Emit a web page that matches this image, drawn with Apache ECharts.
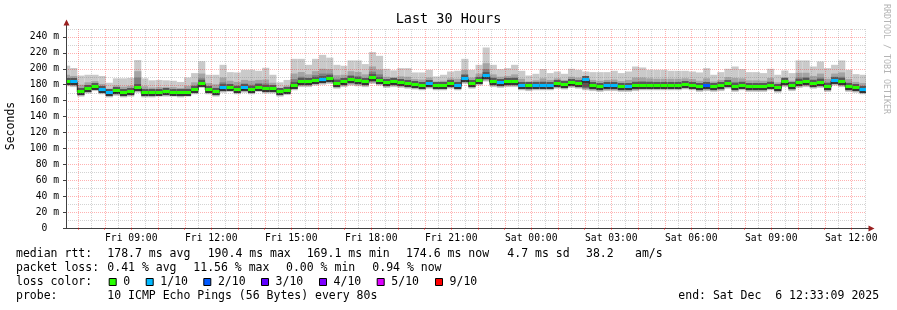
<!DOCTYPE html>
<html><head><meta charset="utf-8">
<script src="https://cdn.jsdelivr.net/npm/echarts@6/dist/echarts.min.js"></script>
<style>html,body{margin:0;padding:0;background:#fff}#c{width:897px;height:310px}</style>
</head><body><div id="c"></div>
<script>
// time in minutes after Fri 00:00
const AXIS_START = 393.15;   // Fri 06:33:09
const AXIS_END = 2193.15;    // Sat 12:33:09
const BUCKET_START = 386.6;
const BUCKET_LEN = 16;

const xTickTimes = [540, 720, 900, 1080, 1260, 1440, 1620, 1800, 1980, 2160];
const xTickLabels = ['Fri 09:00','Fri 12:00','Fri 15:00','Fri 18:00','Fri 21:00','Sat 00:00','Sat 03:00','Sat 06:00','Sat 09:00','Sat 12:00'];
const yTickValues = [0,20,40,60,80,100,120,140,160,180,200,220,240];

const median = [183,183,170.6,175,177.7,173.7,169.3,171.8,169.2,170.5,
 175.6,169.5,169.4,170.2,170.5,170.2,170,170.2,173.5,181,
 173.5,170.8,175.6,176.4,173.5,175.6,173.5,176.4,174.7,174.3,
 170.6,172.7,178.8,183,183,185,186,187.5,181.5,183,
 185.7,184.6,182.8,188.3,185,182,182.8,182,180.8,180,
 179,180.8,178.7,179,180.8,179,187,180.8,185,190.4,
 183.3,182,183.3,183.3,179,177.8,178.7,178.7,179,180.8,
 180,182,180.8,186.2,177.8,176.6,177.8,177.8,176.6,177,
 177.8,179,179,178.7,178.7,179,179,180,179,177,
 177.8,177,177.8,180.8,177,179,177,177,177,179,
 175.7,182.8,177.8,182,182.8,181.2,182,177,185,183.3,
 177,175.7,173.6];
const high = [204,201,191.5,192.5,192.5,191,182.5,188,188,188.5,
 211,188,185.5,186,185.5,185,183.5,189,194.6,209.5,
 192.5,192.5,205,195.8,195.4,198.7,198.7,197.5,201.3,192.5,
 183,186,212.5,212.5,205,212.5,217.5,214,205,203.8,
 210.5,210.5,205.9,221,216.3,200,198,200.8,200.8,195.4,
 195.4,198.7,190.4,192.5,196.6,197.5,212.5,198.7,205,226.8,
 205,199.6,200.8,205,197.5,191.6,193.7,199.6,194.6,196.6,
 193.7,200,198.7,196.6,195.8,195.8,195.8,197.5,194.6,196.6,
 202.9,201.7,198.7,198.7,198.7,197.5,197.5,197.5,196.6,195.4,
 200.8,192.5,195.8,200,202.9,199.6,195.8,195.8,194.6,200,
 192.5,197.9,194.6,210.5,210.5,202.9,209.2,200.8,205,210.5,
 198.7,193.3,192.5];
const upper9 = [192.5,191,180,183,184.5,181,175,179,177.5,178.5,
 197,178,176.5,177,177,177,176,178.5,183,194,
 182,180.5,189,185,183.5,186,185,186,186.5,182.5,
 176,178.7,194,196,193,197,200,199.5,192,192.5,
 197,196,193,203,199,190,189.5,190.5,190,187,
 186.5,189,184,185,188,187.5,198.5,189,194,207,
 193,190,191,193,187.5,184,185.5,188,186,188,
 186,190,189,191,186,185,186,186.5,184.5,186,
 189,189,188,187.5,187.5,187.5,187.5,188,187,185,
 188,184,186,189.5,188.5,188,185.5,185.5,185,188.5,
 183,189.5,185,195,195,191,194,187.5,194,195.5,
 187,183.5,182];
const upper8 = [188,187.5,176,179.5,181.5,178,172.5,176,174,175,
 189,174,173.5,174,174,174,173.5,175,179,188,
 178,176,183,181,179,181.5,180,182,181.5,179,
 173.7,176,187,190,188.5,192,194,194,187.5,188,
 192,191,188.5,196.5,193,186.5,186.5,187,186,184,
 183,185,181.5,182.5,185,183.5,193.5,185,190,199.5,
 189,186.5,187.5,189,183.5,181.5,182.5,184,183,185,
 183.5,186.5,185,188.5,182,181.5,182.5,182.5,181,182,
 184,184.5,184,183.5,183.5,183.5,183.5,184.5,183.5,181.5,
 183.5,181,182,185.5,183.5,184,181.5,181.5,181.5,184,
 180,186.5,182,189,189.5,186.5,189,183,190,190,
 182.5,180,178.5];
const low = [178,177,165,169,172,168,164,166,164,165,
 170,164,164,165,165,165,164,165,168,176,
 168,165,170,171,168,170,168,171,169,169,
 165,167,173,177,177,179,180,181,175,177,
 179,178,177,181,179,176,177,176,175,174,
 173,175,173,173,175,173,181,175,179,184,
 177,176,177,177,173,172,173,173,173,175,
 174,176,175,173,172,171,172,172,171,171,
 172,173,173,173,173,173,173,174,173,171,
 172,171,172,175,171,173,171,171,171,173,
 170,177,172,176,177,175,176,171,179,177,
 171,170,168];
const lossTenths = [0,1,0,0,0,1,1,0,0,0,
 0,0,0,0,0,0,0,0,0,0,
 0,0,1,0,0,1,0,0,0,0,
 0,0,0,0,0,0,1,0,0,0,
 0,0,0,0,0,0,0,0,0,0,
 0,1,0,0,0,1,1,0,0,1,
 0,1,0,0,1,0,1,1,1,0,
 0,0,0,1,0,0,1,1,0,1,
 0,0,0,0,0,0,0,0,0,0,
 2,0,0,0,0,0,0,0,0,0,
 0,0,0,0,0,0,0,0,1,0,
 0,0,1];

const lossLegend = ['0','1/10','2/10','3/10','4/10','5/10','9/10'];
const lossColorList = ['#26ff00','#00b8ff','#0059ff','#5e00ff','#7e00ff','#dd00ff','#ff0000'];
const lossColorOf = {0:'#26ff00',1:'#00b8ff',2:'#0059ff',3:'#5e00ff',4:'#7e00ff',5:'#dd00ff',9:'#ff0000'};

const MONO = '"DejaVu Sans Mono", monospace';

// build data for the library
const bucketData = median.map((m, i) => {
  const s = BUCKET_START + i * BUCKET_LEN;
  return [s, s + BUCKET_LEN, low[i], upper8[i], upper9[i], high[i], m, lossTenths[i]];
});
const medianLine = median.map((m, i) => [Math.max(AXIS_START, BUCKET_START + i * BUCKET_LEN), m]);
medianLine.push([AXIS_END, median[median.length - 1]]);

const hourTicks = [];
for (let t = 420; t < AXIS_END; t += 60) hourTicks.push(t);
const gridItems = [];
for (let t = 420; t < AXIS_END; t += 30) gridItems.push([0, t, t % 60 === 0 ? 1 : 0]);
for (let v = 10; v <= 250; v += 10) gridItems.push([1, v, v % 20 === 0 ? 1 : 0]);

function span(api) {
  const t0 = Math.max(api.value(0), AXIS_START), t1 = Math.min(api.value(1), AXIS_END);
  return [api.coord([t0, 0])[0], api.coord([t1, 0])[0], t0];
}
function renderSmoke(params, api) {
  const [x0, x1, t0] = span(api);
  const Y = v => api.coord([t0, v])[1];
  const lo = Y(api.value(2)), a = Y(api.value(3)), b = Y(api.value(4)), hi = Y(api.value(5)), md = Math.round(Y(api.value(6)));
  const r = (top, bot, fill) => ({type: 'rect', shape: {x: x0, y: top, width: x1 - x0, height: Math.max(0, bot - top)}, style: {fill}});
  return {type: 'group', children: [
    r(hi, lo, '#cacaca'),
    r(b, lo - 1, '#a4a4a4'),
    r(a, lo - 2, '#7e7e7e'),
    r(md - 4, lo - 3, '#585858'),
    r(md - 2, md + 3, '#363636')
  ]};
}
function renderBand(params, api) {
  const [x0, x1, t0] = span(api);
  const md = Math.round(api.coord([t0, api.value(6)])[1]);
  return {type: 'rect', shape: {x: x0, y: md - 2, width: x1 - x0, height: 3}, style: {fill: lossColorOf[api.value(7)]}};
}
function renderGrid(params, api) {
  const cs = params.coordSys;
  const kind = api.value(0), val = api.value(1), major = api.value(2);
  const stroke = major ? 'rgba(255,0,0,0.3)' : 'rgba(120,120,120,0.33)';
  if (kind === 0) {
    const x = Math.round(api.coord([val, 0])[0]) + 0.5;
    return {type: 'line', shape: {x1: x, y1: cs.y, x2: x, y2: cs.y + cs.height}, style: {stroke, lineWidth: 1, lineDash: [1, 1]}};
  }
  const y = Math.round(api.coord([AXIS_START, val])[1]) + 0.5;
  return {type: 'line', shape: {x1: cs.x, y1: y, x2: cs.x + cs.width, y2: y}, style: {stroke, lineWidth: 1, lineDash: [1, 1]}};
}

function txt(text, x, y, size, extra) {
  return Object.assign({type: 'text', x, y, silent: true, style: Object.assign({
    text, font: size + 'px ' + MONO, fill: '#000',
    align: 'left', verticalAlign: 'middle', textAlign: 'left', textVerticalAlign: 'middle'
  }, extra || {})});
}
const L = 11.5;
const graphics = [
  txt('Last 30 Hours', 448.5, 19, 13.5, {align: 'center', textAlign: 'center'}),
  Object.assign(txt('Seconds', 11, 126, 11.5, {align: 'center', textAlign: 'center'}), {rotation: Math.PI / 2}),
  Object.assign(txt('RRDTOOL / TOBI OETIKER', 886.5, 59, 8.3, {align: 'center', textAlign: 'center', fill: '#b4b4b4'}), {rotation: -Math.PI / 2}),
  txt('median rtt:', 16, 254, L), txt('178.7 ms avg', 107.3, 254, L), txt('190.4 ms max', 207.7, 254, L),
  txt('169.1 ms min', 306.7, 254, L), txt('174.6 ms now', 406, 254, L), txt('4.7 ms sd', 507.3, 254, L),
  txt('38.2', 586, 254, L), txt('am/s', 635, 254, L),
  txt('packet loss:', 16, 268.3, L), txt('0.41 % avg', 107.3, 268.3, L), txt('11.56 % max', 193.3, 268.3, L),
  txt('0.00 % min', 286, 268.3, L), txt('0.94 % now', 372.3, 268.3, L),
  txt('loss color:', 16, 282, L),
  txt('probe:', 16, 296, L), txt('10 ICMP Echo Pings (56 Bytes) every 80s', 107.3, 296, L),
  txt('end: Sat Dec  6 12:33:09 2025', 678.3, 296, L),
  // axis extensions and arrows
  {type: 'line', silent: true, shape: {x1: 66.5, y1: 29, x2: 66.5, y2: 23}, style: {stroke: '#404040', lineWidth: 1}},
  {type: 'polygon', silent: true, shape: {points: [[66.5, 19.5], [63.5, 25.5], [69.5, 25.5]]}, style: {fill: '#9a2020'}},
  {type: 'line', silent: true, shape: {x1: 866, y1: 228.5, x2: 870, y2: 228.5}, style: {stroke: '#404040', lineWidth: 1}},
  {type: 'polygon', silent: true, shape: {points: [[874.5, 228.5], [868.5, 225.5], [868.5, 231.5]]}, style: {fill: '#9a2020'}}
];
const swatchX = [108.7, 145.7, 203.3, 261, 319, 376.7, 435];
lossLegend.forEach((lab, i) => {
  graphics.push({type: 'rect', silent: true, shape: {x: swatchX[i] + 0.5, y: 278.5, width: 7, height: 7}, style: {fill: lossColorList[i], stroke: '#000', lineWidth: 1}});
  graphics.push(txt(lab, swatchX[i] + 14.6, 282, L));
});

const chart = echarts.init(document.getElementById('c'), null, {renderer: 'canvas'});
chart.setOption({
  animation: false,
  backgroundColor: '#ffffff',
  grid: {left: 66, right: 31, top: 29, bottom: 82, containLabel: false},
  xAxis: {
    type: 'value', min: AXIS_START, max: AXIS_END, z: 10,
    axisLine: {show: true, lineStyle: {color: '#404040', width: 1}},
    axisTick: {show: true, customValues: hourTicks, length: 2, inside: false, lineStyle: {color: 'rgba(255,0,0,0.45)'}},
    splitLine: {show: false},
    axisLabel: {
      customValues: xTickTimes, margin: 5,
      formatter: v => { const k = xTickTimes.indexOf(Math.round(v)); return k >= 0 ? xTickLabels[k] : ''; },
      fontFamily: 'DejaVu Sans Mono', fontSize: 9.7, color: '#000'
    }
  },
  yAxis: {
    type: 'value', min: 0, max: 250, z: 10,
    axisLine: {show: true, lineStyle: {color: '#404040', width: 1}},
    axisTick: {show: true, customValues: yTickValues, length: 3, lineStyle: {color: '#404040'}},
    splitLine: {show: false},
    axisLabel: {
      customValues: yTickValues, margin: 7,
      formatter: v => v === 0 ? '0  ' : v + ' m',
      fontFamily: 'DejaVu Sans Mono', fontSize: 9.7, color: '#000'
    }
  },
  series: [
    {type: 'custom', name: 'smoke', z: 1, silent: true, clip: true, renderItem: renderSmoke, data: bucketData},
    {type: 'custom', name: 'grid', z: 2, silent: true, renderItem: renderGrid, data: gridItems},
    {type: 'line', name: 'median', z: 3, silent: true, step: 'end', symbol: 'none', clip: true,
     lineStyle: {color: '#202020', width: 1}, data: medianLine},
    {type: 'custom', name: 'loss', z: 4, silent: true, clip: true, renderItem: renderBand, data: bucketData}
  ],
  graphic: graphics
});
</script></body></html>
